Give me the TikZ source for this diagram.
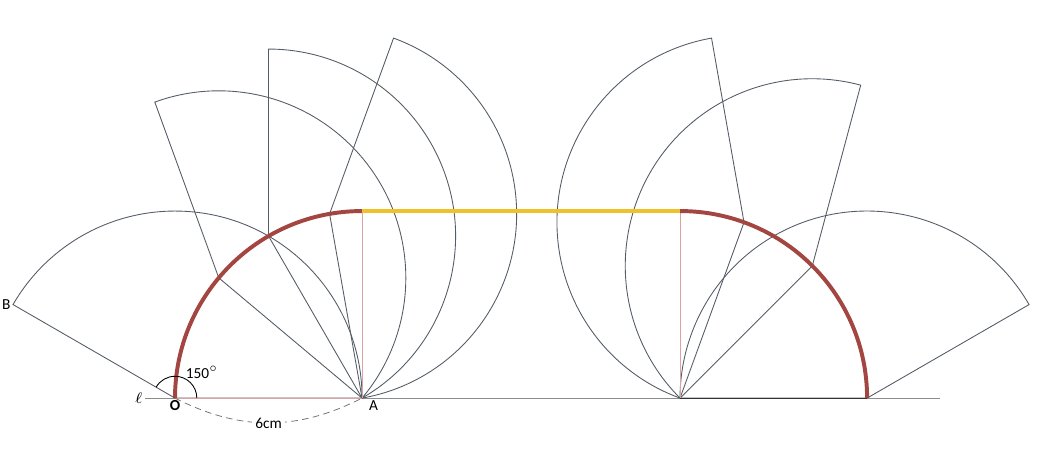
\documentclass[tikz,border=0pt]{standalone}
\usepackage{fontspec}
\setmainfont{Carlito}
\usetikzlibrary{calc}
\definecolor{sectorgray}{rgb}{0.33,0.36,0.40}
\definecolor{rollred}{rgb}{0.64,0.27,0.25}
\definecolor{rollyellow}{rgb}{0.94,0.76,0.16}
\definecolor{guidepink}{rgb}{0.86,0.64,0.64}

\begin{document}
\begin{tikzpicture}[%
    x=0.5cm, y=0.5cm,           % one unit is one cm of the drawing
    every node/.style={font=\fontsize{7}{8}\selectfont},
    ]

\tikzset{
  sector/.style={draw=sectorgray, line width=0.4pt},
  guide/.style={draw=guidepink, line width=0.45pt},
  ground/.style={draw=black!45, line width=0.45pt},
  % path followed by the point O
  locus/.style={draw=rollred, line width=1.8pt},
  slide/.style={draw=rollyellow, line width=1.5pt},
  lbl/.style={inner sep=1pt}
}

  \useasboundingbox (-5.614,-2.053) rectangle (28.26,12.77);

  % fixed points on the line l
  \coordinate (O) at (0,0);
  \coordinate (A) at (6,0);
  \coordinate (B) at (150:6);
  \coordinate (pivot) at (16.2,0);
  \coordinate (Oend) at (22.2,0);
  \coordinate (Atop) at (6,6);
  \coordinate (Ptop) at (16.2,6);
  \coordinate (lstart) at (-0.96,0);
  \coordinate (lend) at (24.54,0);

  \draw[ground] (lstart) -- (lend);

  % sector turning about A
  \foreach \a in {0,40,60,80}{
    \draw[sector] ($(A)+(180-\a:6)$) -- ++(-\a:6)
      arc[start angle=-\a, end angle=150-\a, radius=6] -- cycle;
  }
  % sector turning about B
  \foreach \b in {20,45,90}{
    \draw[sector] ($(pivot)+(90-\b:6)$) -- ++(120-\b:6)
      arc[start angle=120-\b, end angle=270-\b, radius=6] -- cycle;
  }

  \draw[guide] (O) -- (A);
  \draw[guide] (Atop) -- (A);
  \draw[guide] (Ptop) -- (pivot);
  \draw[black!80, line width=0.5pt] (pivot) -- (Oend);

  % path of O
  \draw[locus] (O) arc[start angle=180, end angle=90, radius=6];
  \draw[slide] (Atop) -- (Ptop);
  \draw[locus] (Ptop) arc[start angle=90, end angle=0, radius=6];

  % angle and length marks
  \draw[black, line width=0.4pt] (0.7,0) arc[start angle=0, end angle=150, radius=0.7];
  \node[lbl] (ang) at (0.87,0.83) {150$^\circ$};
  \draw[densely dashed, black!55, line width=0.35pt] (O) to[bend right=27]
    node[fill=white, text=black, inner sep=1.5pt] (len) {6cm} (A);

  \node[lbl, below=0pt] (labO) at (O) {\textbf{O}};
  \node[lbl, below right, xshift=2pt] (labA) at (A) {A};
  \node[lbl, left] (labB) at (B) {B};
  \node[lbl, left] (labl) at (lstart) {$\ell$};
\end{tikzpicture}
\end{document}
